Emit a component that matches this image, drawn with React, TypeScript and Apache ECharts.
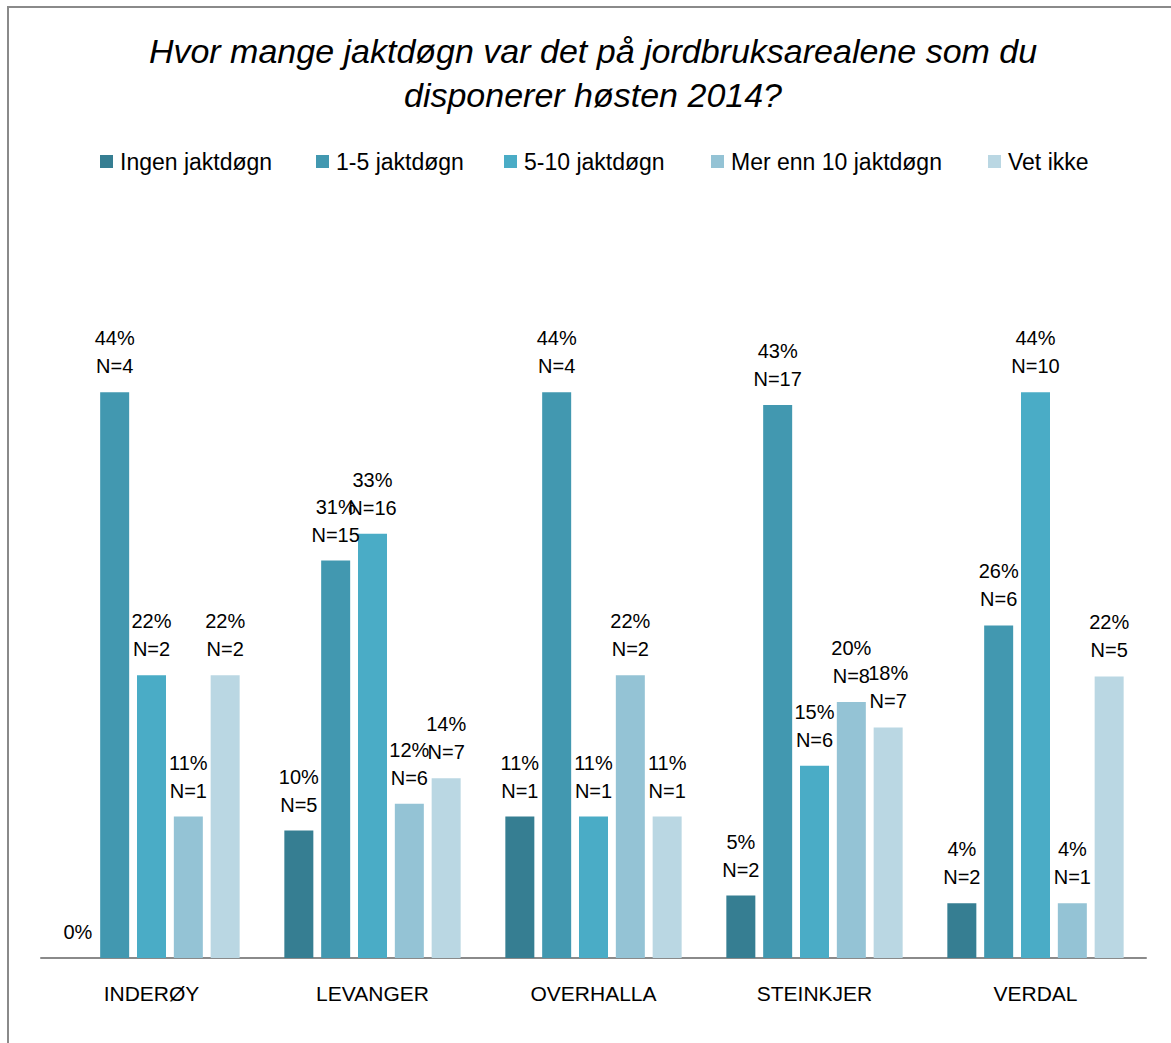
import React, { useEffect, useRef } from "react";
import * as echarts from "echarts";

const categories = ["INDERØY", "LEVANGER", "OVERHALLA", "STEINKJER", "VERDAL"];
const seriesNames = ["Ingen jaktdøgn", "1-5 jaktdøgn", "5-10 jaktdøgn", "Mer enn 10 jaktdøgn", "Vet ikke"];
const colors = ["#367e92", "#4298b0", "#4aacc6", "#94c3d5", "#bad7e3"];
const legendLefts = [100, 316, 504, 711, 988];

// percentage values per series (one entry per category)
const ingen = [0, 10, 11.1, 4.9, 4.3];
const enTilFem = [44.4, 31.2, 44.4, 43.4, 26.1];
const femTilTi = [22.2, 33.3, 11.1, 15.1, 44.4];
const merEnnTi = [11.1, 12.1, 22.2, 20.1, 4.3];
const vetIkke = [22.2, 14.1, 11.1, 18.1, 22.1];

// N counts per series (null = no N label)
const nIngen = [null, 5, 1, 2, 2];
const nEnTilFem = [4, 15, 4, 17, 6];
const nFemTilTi = [2, 16, 1, 6, 10];
const nMerEnnTi = [1, 6, 2, 8, 1];
const nVetIkke = [2, 7, 1, 7, 5];

const pctValues = [ingen, enTilFem, femTilTi, merEnnTi, vetIkke];
const nValues = [nIngen, nEnTilFem, nFemTilTi, nMerEnnTi, nVetIkke];

const FONT = "Liberation Sans";

export default function App() {
  const ref = useRef<HTMLDivElement>(null);
  useEffect(() => {
    if (!ref.current) return;
    const chart = echarts.init(ref.current, null, { renderer: "svg" });
    chart.setOption({
      animation: false,
      backgroundColor: "#ffffff",
      textStyle: { fontFamily: FONT },
      title: {
        text: "Hvor mange jaktdøgn var det på jordbruksarealene som du\ndisponerer høsten 2014?",
        left: 593,
        textAlign: "center",
        top: 29,
        padding: 0,
        textStyle: {
          fontFamily: FONT,
          fontStyle: "italic",
          fontWeight: "normal",
          fontSize: 34,
          lineHeight: 44,
          color: "#000000",
        },
      },
      legend: seriesNames.map((name, i) => ({
        data: [name],
        left: legendLefts[i],
        top: 150,
        padding: 0,
        icon: "rect",
        itemWidth: 13,
        itemHeight: 13,
        textStyle: { fontFamily: FONT, fontSize: 23, color: "#000000", padding: [0, 0, 0, 2] },
      })),
      graphic: [
        {
          type: "rect",
          shape: { x: 8, y: 7, width: 1300, height: 1200 },
          style: { fill: "none", stroke: "#8a8a8a", lineWidth: 2 },
          silent: true,
        },
      ],
      grid: { left: 41, right: 25, top: 321, bottom: 85, containLabel: false },
      xAxis: {
        type: "category",
        data: categories,
        axisTick: { show: false },
        axisLine: { lineStyle: { color: "#8a8a8a", width: 2 } },
        axisLabel: { fontFamily: FONT, fontSize: 21, color: "#000000", margin: 25 },
      },
      yAxis: {
        type: "value",
        min: 0,
        max: 50,
        show: false,
        splitLine: { show: false },
      },
      series: seriesNames.map((name, si) => ({
        name,
        type: "bar",
        barWidth: 29,
        barGap: "27%",
        itemStyle: { color: colors[si] },
        data: pctValues[si],
        label: {
          show: true,
          position: "top",
          distance: 12,
          fontFamily: FONT,
          fontSize: 20,
          lineHeight: 28,
          color: "#000000",
          formatter: (p: any) => {
            const n = nValues[si][p.dataIndex];
            const pct = Math.round(p.value) + "%";
            return n === null ? pct : pct + "\nN=" + n;
          },
        },
      })),
    });
    return () => chart.dispose();
  }, []);
  return (
    <div style={{ position: "absolute", left: 0, top: 0, width: 1171, height: 1043, overflow: "hidden" }}>
      <div ref={ref} style={{ width: 1171, height: 1043 }} />
    </div>
  );
}
